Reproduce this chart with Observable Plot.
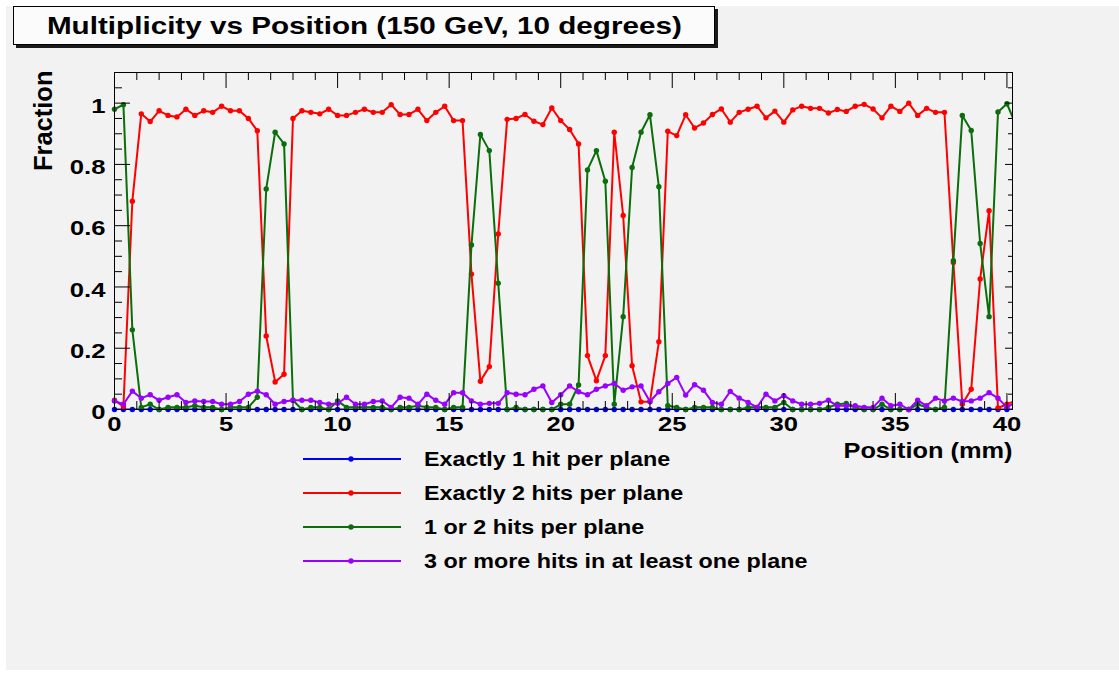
<!DOCTYPE html>
<html>
<head>
<meta charset="utf-8">
<script src="https://cdn.jsdelivr.net/npm/d3@7"></script>
<script src="https://cdn.jsdelivr.net/npm/@observablehq/plot@0.6"></script>
<style>
  html, body { margin: 0; padding: 0; background: #ffffff; }
  #canvas { position: relative; width: 1119px; height: 675px; overflow: hidden;
            font-family: "Liberation Sans", Arial, Helvetica, sans-serif; }
  #pad { position: absolute; left: 6px; top: 6px; right: 0; bottom: 5px; background: #f2f2f2; }
  #chart { position: absolute; left: 0; top: 0; }
  #title { position: absolute; left: 13px; top: 6px; width: 700px; height: 37px;
           background: #fbfbfb; border: 1px solid #000; box-shadow: 3px 3px 0 #1a1a1a;
           display: flex; align-items: center; justify-content: center; }
  #title span { font-weight: bold; font-size: 24.5px; color: #000; white-space: nowrap;
                display: inline-block; transform: scaleX(1.21); }
  .legend-row { position: absolute; left: 303px; height: 24px; display: flex; align-items: center; }
  .legend-row span { font-weight: bold; font-size: 21px; color: #000; white-space: nowrap;
                     display: inline-block; transform: scaleX(1.11); transform-origin: left center;
                     margin-left: 23px; }
</style>
</head>
<body>
<div id="canvas">
  <div id="pad"></div>
  <div id="chart"></div>
  <div id="title"><span>Multiplicity vs Position (150 GeV, 10 degrees)</span></div>
</div>
<script>
// Fraction of events per 0.4 mm position bin, for four hit-multiplicity classes.
const binWidth = 0.4;

const exactlyOne = [
  0,0,0,0,0,0,0,0,0,0, 0,0,0,0,0,0,0,0,0,0,
  0,0,0,0,0,0,0,0,0,0, 0,0,0,0,0,0,0,0,0,0,
  0,0,0,0,0,0,0,0,0,0, 0,0,0,0,0,0,0,0,0,0,
  0,0,0,0,0,0,0,0,0,0, 0,0,0,0,0,0,0,0,0,0,
  0,0,0,0,0,0,0,0,0,0, 0,0,0,0,0,0,0,0,0,0,
  0,0
];

const exactlyTwo = [
  0.03, 0.01, 0.68, 0.965, 0.94, 0.975, 0.96, 0.955, 0.98, 0.96,
  0.975, 0.97, 0.99, 0.975, 0.975, 0.95, 0.91, 0.24, 0.09, 0.115,
  0.95, 0.975, 0.97, 0.965, 0.98, 0.96, 0.96, 0.97, 0.98, 0.97,
  0.97, 0.995, 0.963, 0.963, 0.98, 0.943, 0.97, 0.99, 0.943, 0.943,
  0.442, 0.092, 0.14, 0.573, 0.947, 0.95, 0.963, 0.941, 0.93, 0.984,
  0.943, 0.914, 0.867, 0.176, 0.094, 0.176, 0.905, 0.633, 0.143, 0.025,
  0.025, 0.221, 0.908, 0.894, 0.962, 0.919, 0.935, 0.963, 0.981, 0.938,
  0.97, 0.98, 0.99, 0.952, 0.974, 0.938, 0.978, 0.99, 0.983, 0.983,
  0.968, 0.979, 0.973, 0.99, 0.996, 0.981, 0.952, 0.99, 0.973, 1.0,
  0.96, 0.983, 0.97, 0.97, 0.48, 0.017, 0.066, 0.426, 0.649, 0.005,
  0.017, 0.03
];

const oneOrTwo = [
  0.98, 0.995, 0.26, 0.007, 0.017, 0.0, 0.007, 0.007, 0.007, 0.012,
  0.007, 0.007, 0.0, 0.007, 0.007, 0.007, 0.04, 0.72, 0.905, 0.867,
  0.03, 0.0, 0.007, 0.007, 0.0, 0.028, 0.007, 0.007, 0.007, 0.007,
  0.007, 0.0, 0.007, 0.007, 0.012, 0.007, 0.007, 0.0, 0.007, 0.007,
  0.537, 0.898, 0.845, 0.412, 0.0, 0.007, 0.0, 0.0, 0.0, 0.0,
  0.017, 0.017, 0.08, 0.782, 0.845, 0.745, 0.017, 0.303, 0.79, 0.905,
  0.962, 0.727, 0.012, 0.007, 0.0, 0.007, 0.007, 0.007, 0.0, 0.0,
  0.0, 0.007, 0.007, 0.007, 0.007, 0.023, 0.0, 0.0, 0.0, 0.0,
  0.007, 0.017, 0.02, 0.007, 0.0, 0.0, 0.017, 0.0, 0.0, 0.0,
  0.017, 0.007, 0.0, 0.007, 0.486, 0.96, 0.911, 0.542, 0.303, 0.971,
  0.998, 0.93
];

const threeOrMore = [
  0.028, 0.017, 0.06, 0.037, 0.048, 0.03, 0.04, 0.048, 0.023, 0.028,
  0.026, 0.026, 0.017, 0.017, 0.026, 0.05, 0.06, 0.048, 0.017, 0.026,
  0.03, 0.03, 0.03, 0.023, 0.017, 0.02, 0.04, 0.017, 0.017, 0.026,
  0.028, 0.007, 0.04, 0.037, 0.017, 0.05, 0.03, 0.017, 0.055, 0.055,
  0.028, 0.017, 0.02, 0.02, 0.055, 0.05, 0.048, 0.066, 0.077, 0.023,
  0.048, 0.077, 0.058, 0.048, 0.066, 0.077, 0.085, 0.063, 0.074, 0.077,
  0.026, 0.058, 0.085, 0.105, 0.047, 0.081, 0.063, 0.023, 0.017, 0.059,
  0.037, 0.023, 0.007, 0.05, 0.028, 0.045, 0.028, 0.017, 0.017, 0.02,
  0.03, 0.012, 0.012, 0.012, 0.007, 0.007, 0.037, 0.012, 0.017, 0.0,
  0.03, 0.012, 0.037, 0.028, 0.037, 0.026, 0.028, 0.037, 0.055, 0.037,
  0.007, 0.025
];

const seriesNames = [
  "Exactly 1 hit per plane",
  "Exactly 2 hits per plane",
  "1 or 2 hits per plane",
  "3 or more hits in at least one plane"
];
const seriesValues = [exactlyOne, exactlyTwo, oneOrTwo, threeOrMore];
const seriesColors = ["#0000ff", "#ff0000", "#0b6e0b", "#9900ff"];

const xTickValues = [0, 5, 10, 15, 20, 25, 30, 35, 40];
const yTickValues = [0, 0.2, 0.4, 0.6, 0.8, 1];
const xMinorTicks = d3.range(0, 41, 1).filter(v => v % 5 !== 0);
const yMinorTicks = d3.range(0, 23).map(i => i * 0.05).filter(v => Math.abs(v * 5 - Math.round(v * 5)) > 1e-6);

const xLabel = "Position (mm)";
const yLabel = "Fraction";

// Frame geometry in pixels
const W = 1119, H = 675;
const mLeft = 114, mRight = 107, mTop = 72, mBottom = 266;
const frameW = W - mLeft - mRight, frameH = H - mTop - mBottom;

const rows = [];
seriesValues.forEach((vals, k) => {
  vals.forEach((v, i) => rows.push({series: seriesNames[k], position: i * binWidth, fraction: v}));
});
const inside = rows.filter(d => d.position <= 40 + 1e-9);

const seriesMarks = seriesNames.flatMap((name, k) => [
  Plot.line(rows.filter(d => d.series === name), {
    x: "position", y: "fraction", stroke: seriesColors[k], strokeWidth: 2, clip: true
  }),
  Plot.dot(inside.filter(d => d.series === name), {
    x: "position", y: "fraction", fill: seriesColors[k], r: 2.7, stroke: "none"
  })
]);

const chart = Plot.plot({
  width: W, height: H,
  marginLeft: mLeft, marginRight: mRight, marginTop: mTop, marginBottom: mBottom,
  x: {domain: [0, 40.25], axis: null},
  y: {domain: [0, 1.1], axis: null},
  style: {background: "transparent", overflow: "visible",
          fontFamily: "'Liberation Sans', Arial, Helvetica, sans-serif"},
  marks: [
    ...seriesMarks,
    Plot.frame({stroke: "#000", strokeWidth: 1}),
    // bottom and top ticks, drawn inward
    Plot.tickX(xTickValues, {x: d => d, insetTop: frameH - 16, stroke: "#000"}),
    Plot.tickX(xMinorTicks, {x: d => d, insetTop: frameH - 8, stroke: "#000"}),
    Plot.tickX(xTickValues, {x: d => d, insetBottom: frameH - 16, stroke: "#000"}),
    Plot.tickX(xMinorTicks, {x: d => d, insetBottom: frameH - 8, stroke: "#000"}),
    // left and right ticks, drawn inward
    Plot.tickY(yTickValues, {y: d => d, insetRight: frameW - 16, stroke: "#000"}),
    Plot.tickY(yMinorTicks, {y: d => d, insetRight: frameW - 8, stroke: "#000"}),
    Plot.tickY(yTickValues, {y: d => d, insetLeft: frameW - 7, stroke: "#000"}),
    Plot.tickY(yMinorTicks, {y: d => d, insetLeft: frameW - 4, stroke: "#000"}),
    // tick labels
    Plot.text(xTickValues, {x: d => d, frameAnchor: "bottom", dy: 21, text: d => String(d),
      fontSize: 21, fontWeight: "bold", fill: "#000"}),
    Plot.text(yTickValues, {y: d => d, frameAnchor: "left", dx: -9, dy: 3, textAnchor: "end",
      text: d => String(d), fontSize: 21, fontWeight: "bold", fill: "#000"}),
    // axis titles
    Plot.text([xLabel], {frameAnchor: "bottom-right", dy: 48, textAnchor: "end", text: d => d,
      fontSize: 21.5, fontWeight: "bold", fill: "#000"}),
    Plot.text([yLabel], {frameAnchor: "top-left", dx: -81, dy: -2, rotate: -90, textAnchor: "end",
      text: d => d, fontSize: 25.5, fontWeight: "bold", fill: "#000"})
  ]
});

document.getElementById("chart").appendChild(chart);

// widen horizontal labels about their anchor to the canvas' font proportions
const textGroups = chart.querySelectorAll('g[aria-label="text"]');
function widen(group, sx, anchor) {
  if (!group) return;
  group.querySelectorAll("text").forEach(t => {
    const b = t.getBBox();
    const cx = anchor === "end" ? b.x + b.width : b.x + b.width / 2;
    const cy = b.y + b.height / 2;
    const tr = t.getAttribute("transform") || "";
    t.setAttribute("transform",
      `${tr} translate(${cx},${cy}) scale(${sx},1) translate(${-cx},${-cy})`);
  });
}
widen(textGroups[0], 1.22, "middle");
widen(textGroups[1], 1.22, "end");
widen(textGroups[2], 1.18, "end");

// legend
const canvas = document.getElementById("canvas");
seriesNames.forEach((name, k) => {
  const row = document.createElement("div");
  row.className = "legend-row";
  row.style.top = (459 + 34 * k - 12) + "px";
  const ns = "http://www.w3.org/2000/svg";
  const sw = document.createElementNS(ns, "svg");
  sw.setAttribute("width", 98); sw.setAttribute("height", 24);
  const ln = document.createElementNS(ns, "line");
  ln.setAttribute("x1", 0); ln.setAttribute("x2", 98);
  ln.setAttribute("y1", 12); ln.setAttribute("y2", 12);
  ln.setAttribute("stroke", seriesColors[k]); ln.setAttribute("stroke-width", 2);
  const c = document.createElementNS(ns, "circle");
  c.setAttribute("cx", 48); c.setAttribute("cy", 12); c.setAttribute("r", 2.7);
  c.setAttribute("fill", seriesColors[k]);
  sw.appendChild(ln); sw.appendChild(c);
  const label = document.createElement("span");
  label.textContent = name;
  row.appendChild(sw); row.appendChild(label);
  canvas.appendChild(row);
});
</script>
</body>
</html>
